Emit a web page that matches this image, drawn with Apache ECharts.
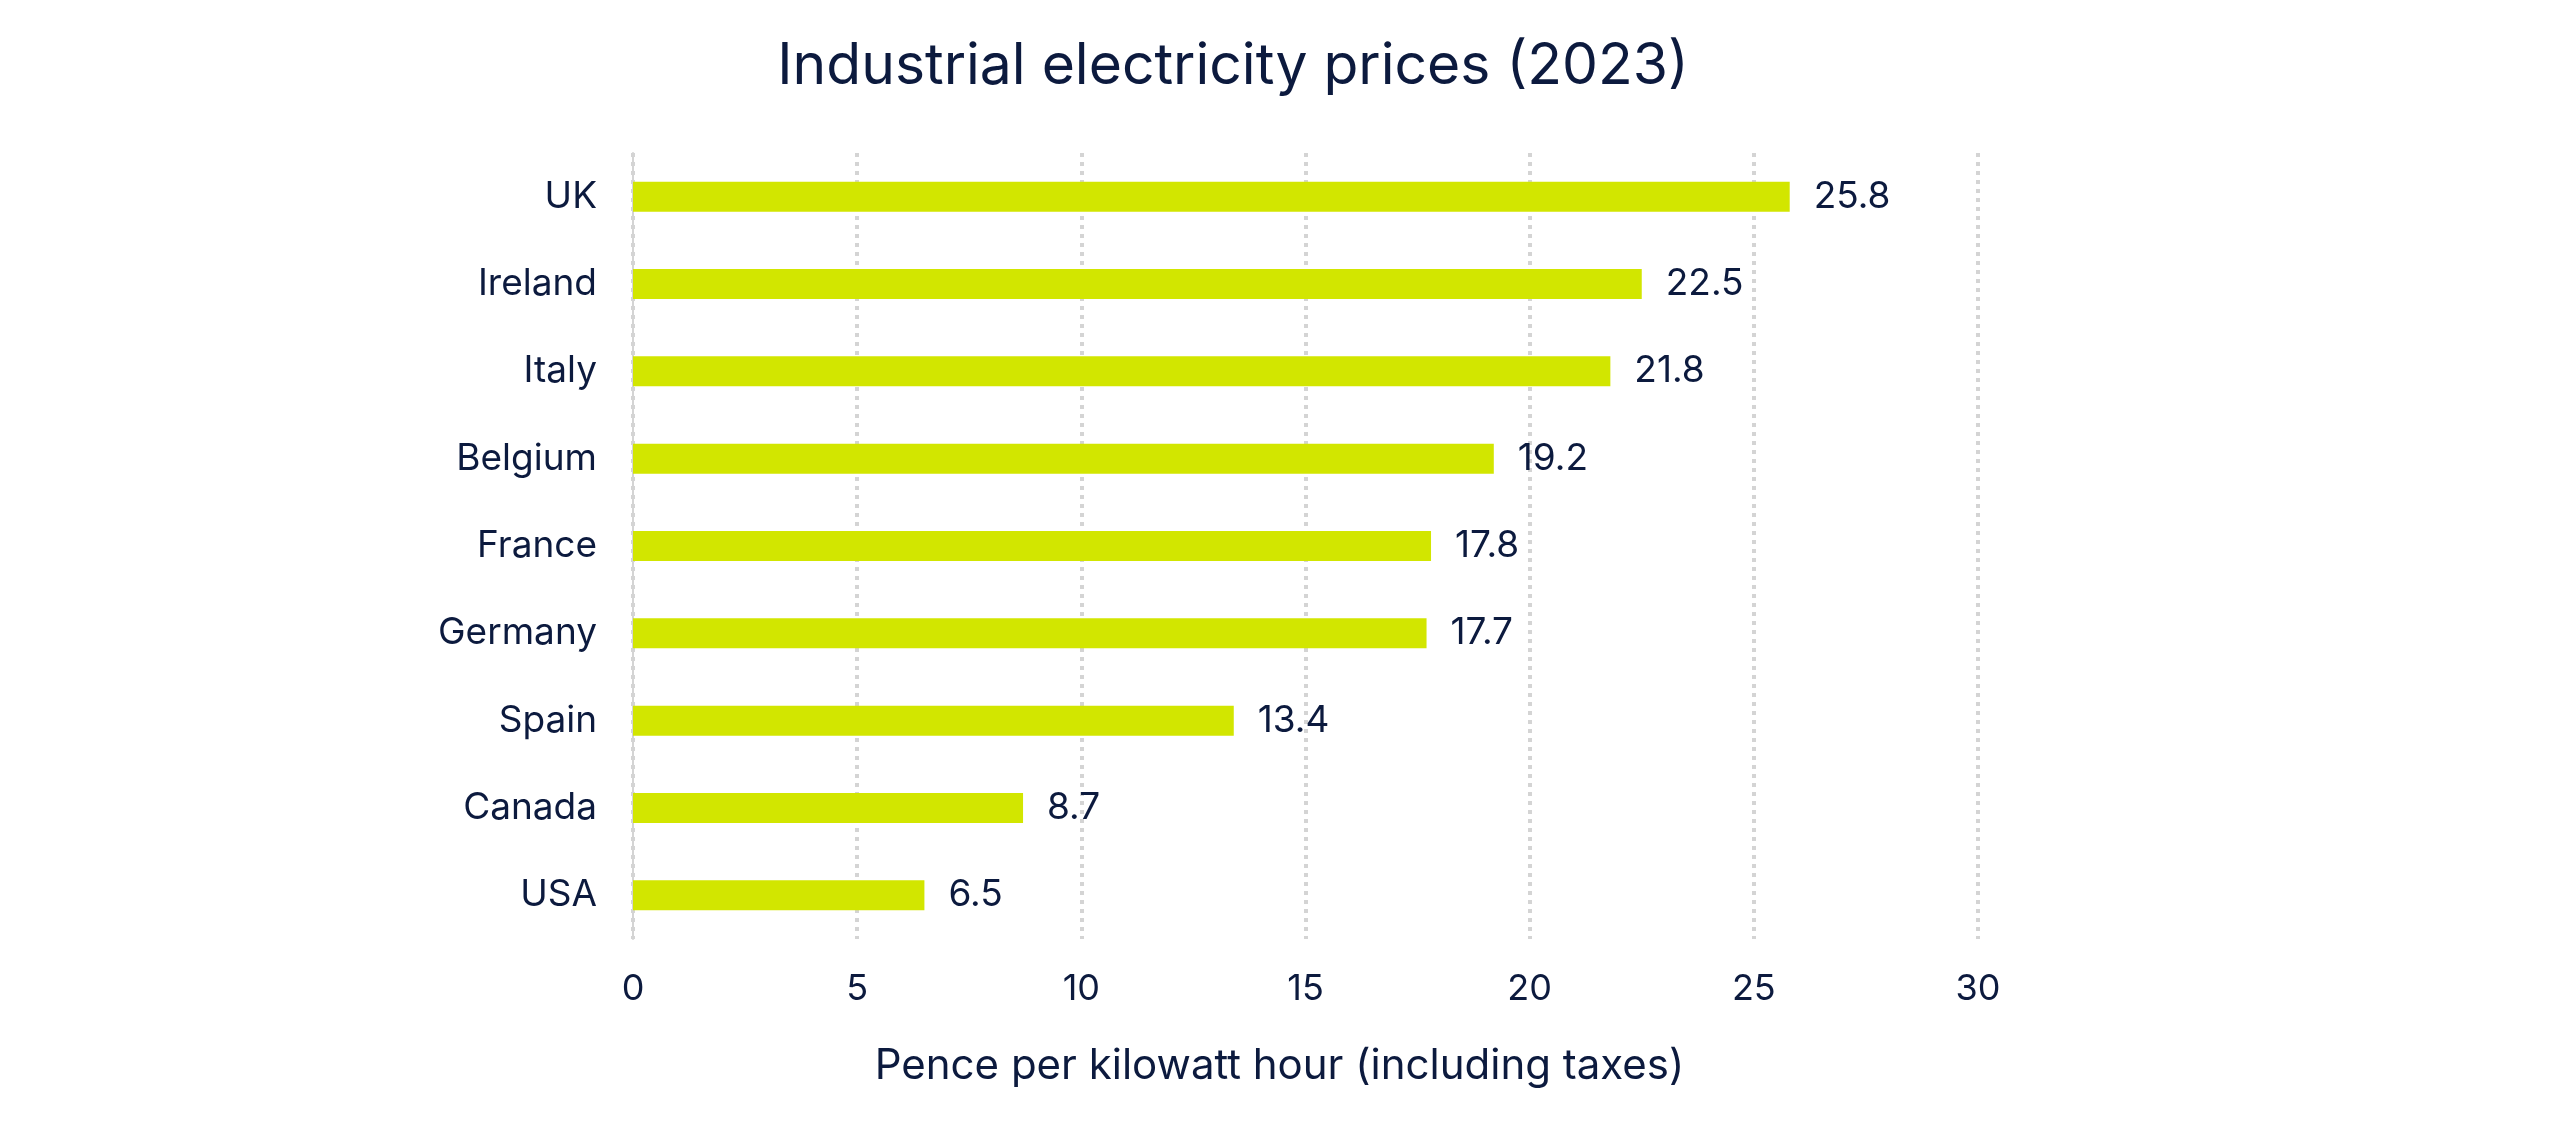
<!DOCTYPE html>
<html>
<head>
<meta charset="utf-8">
<title>Industrial electricity prices (2023)</title>
<script src="https://cdn.jsdelivr.net/npm/echarts@6/dist/echarts.min.js"></script>
<style>
  html, body { margin: 0; padding: 0; background: #fff; }
  #chart { width: 2560px; height: 1124px; }
</style>
</head>
<body>
<div id="chart"></div>
<script>
// data, top to bottom
const countries = ['UK', 'Ireland', 'Italy', 'Belgium', 'France', 'Germany', 'Spain', 'Canada', 'USA'];
const prices = [25.8, 22.5, 21.8, 19.2, 17.8, 17.7, 13.4, 8.7, 6.5];

const navy = '#0c1a3e';
const lime = '#d2e600';
const grey = '#d4d4d4';
const font = 'Inter';

const chart = echarts.init(document.getElementById('chart'));

chart.setOption({
  backgroundColor: '#fff',
  animation: false,
  title: {
    text: 'Industrial electricity prices (2023)',
    left: 1228,
    top: 33,
    textAlign: 'center',
    textStyle: { fontFamily: font, fontSize: 57, fontWeight: 'normal', color: navy }
  },
  grid: { left: 633, right: 582, top: 153, bottom: 185, containLabel: false },
  xAxis: {
    type: 'value',
    min: 0,
    max: 30,
    interval: 5,
    name: 'Pence per kilowatt hour (including taxes)',
    nameLocation: 'middle',
    nameGap: 106,
    nameTextStyle: {
      fontFamily: font, fontSize: 42, color: navy,
      padding: [0, 52, 0, 0]
    },
    axisLine: { show: false },
    axisTick: { show: false },
    axisLabel: { fontFamily: font, fontSize: 36, color: navy, margin: 32 },
    splitLine: {
      show: true,
      lineStyle: { color: grey, width: 4, type: [4, 5] }
    }
  },
  yAxis: {
    type: 'category',
    data: countries,
    inverse: true,
    axisLine: { show: true, lineStyle: { color: grey, width: 2 } },
    axisTick: { show: false },
    axisLabel: { fontFamily: font, fontSize: 37, color: navy, margin: 36 },
    splitLine: { show: false }
  },
  series: [{
    type: 'bar',
    data: prices,
    barWidth: 30,
    itemStyle: { color: lime },
    label: {
      show: true,
      position: 'right',
      distance: 24,
      fontFamily: font,
      fontSize: 37,
      color: navy,
      formatter: (p) => p.value.toFixed(1)
    },
    z: 3
  }]
});
</script>
</body>
</html>
